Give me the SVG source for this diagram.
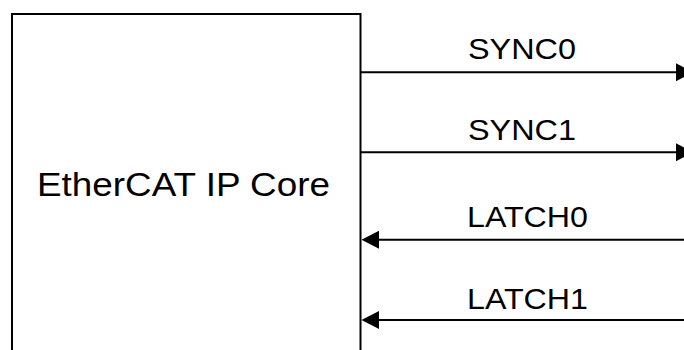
<svg xmlns="http://www.w3.org/2000/svg" width="684" height="350" viewBox="0 0 684 350">
<style>
.box{fill:#fff;stroke:#000;stroke-width:2}
.ln{fill:none;stroke:#000;stroke-width:2}
.ah{fill:#000;stroke:none}
.t{font-family:"Liberation Sans",Arial,sans-serif;fill:#000}
</style>
<rect width="684" height="350" fill="#fff"/>
<g id="core">
<path class="box" d="M12,352 V14 H360.5 V352"/>
<text class="t" x="37" y="196" font-size="33" textLength="293" lengthAdjust="spacingAndGlyphs">EtherCAT IP Core</text>
</g>
<g id="connectors">
<line class="ln" x1="360.5" y1="72.3" x2="680" y2="72.3"/>
<polygon class="ah" points="676,63.3 693,72.3 676,81.3"/>
<line class="ln" x1="360.5" y1="152.3" x2="680" y2="152.3"/>
<polygon class="ah" points="676,143.3 693,152.3 676,161.3"/>
<line class="ln" x1="370" y1="239.7" x2="684" y2="239.7"/>
<polygon class="ah" points="361.5,239.7 379,230.7 379,248.7"/>
<line class="ln" x1="370" y1="320" x2="684" y2="320"/>
<polygon class="ah" points="361.5,320 379,311 379,329"/>
</g>
<g id="labels">
<text class="t" x="468" y="59.3" font-size="29.5" textLength="108" lengthAdjust="spacingAndGlyphs">SYNC0</text>
<text class="t" x="468" y="140" font-size="29.5" textLength="108" lengthAdjust="spacingAndGlyphs">SYNC1</text>
<text class="t" x="467" y="226.7" font-size="29.5" textLength="121" lengthAdjust="spacingAndGlyphs">LATCH0</text>
<text class="t" x="467" y="309" font-size="29.5" textLength="121" lengthAdjust="spacingAndGlyphs">LATCH1</text>
</g>
</svg>
